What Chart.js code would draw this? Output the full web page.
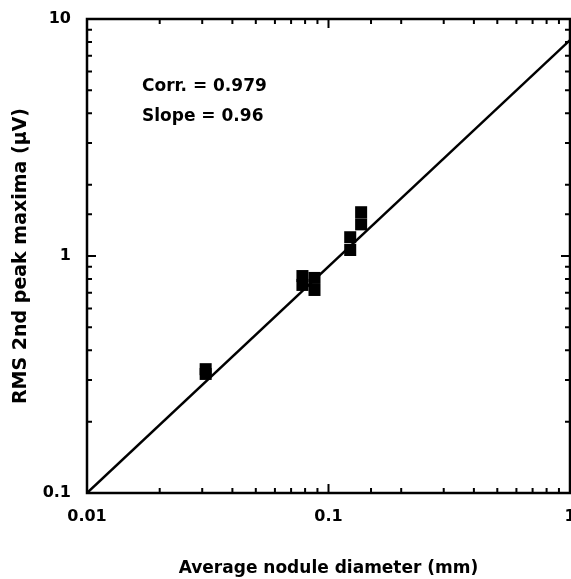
<!DOCTYPE html>
<html>
<head>
<meta charset="utf-8">
<script src="https://cdn.jsdelivr.net/npm/chart.js@4"></script>
<style>
  html, body { margin: 0; padding: 0; background: #fff; }
  #wrap { width: 571px; height: 579px; }
</style>
</head>
<body>
<div id="wrap"><canvas id="chart" width="571" height="579"></canvas></div>
<script>
// measured points (nodule diameter mm, RMS 2nd peak maxima uV)
const diam = [0.031, 0.031, 0.078, 0.078, 0.0875, 0.0875, 0.123, 0.123, 0.1365, 0.1365];
const rms  = [0.333, 0.318, 0.823, 0.755, 0.808, 0.719, 1.20, 1.06, 1.53, 1.36];
// fit line ends
const fitX = [0.01, 1];
const fitY = [0.1, 8.15];
const xMajor = [0.01, 0.1, 1];
const yMajor = [0.1, 1, 10];
const notes = ['Corr. = 0.979', 'Slope = 0.96'];

const FONT = '"DejaVu Sans", sans-serif';

const frame = {
  id: 'frame',
  afterDraw(chart) {
    const ctx = chart.ctx, a = chart.chartArea;
    const xs = chart.scales.x, ys = chart.scales.y;
    ctx.save();
    ctx.strokeStyle = '#000';
    ctx.lineWidth = 2.5;
    ctx.strokeRect(a.left, a.top, a.right - a.left, a.bottom - a.top);
    ctx.lineWidth = 2;
    const isMajor = v => Math.abs(Math.log10(v) - Math.round(Math.log10(v))) < 1e-6;
    xs.ticks.forEach(t => {
      const px = xs.getPixelForValue(t.value);
      const len = isMajor(t.value) ? 9 : 5;
      ctx.beginPath();
      ctx.moveTo(px, a.bottom); ctx.lineTo(px, a.bottom - len);
      ctx.moveTo(px, a.top); ctx.lineTo(px, a.top + len);
      ctx.stroke();
    });
    ys.ticks.forEach(t => {
      const py = ys.getPixelForValue(t.value);
      const len = isMajor(t.value) ? 9 : 5;
      ctx.beginPath();
      ctx.moveTo(a.left, py); ctx.lineTo(a.left + len, py);
      ctx.moveTo(a.right, py); ctx.lineTo(a.right - len, py);
      ctx.stroke();
    });
    ctx.fillStyle = '#000';
    ctx.font = 'bold 17px ' + FONT;
    ctx.textBaseline = 'middle';
    ctx.fillText(notes[0], a.left + 55, a.top + 68);
    ctx.fillText(notes[1], a.left + 55, a.top + 98);
    ctx.restore();
  }
};

const majorLabel = (v, list) => list.some(m => Math.abs(m - v) / m < 1e-6) ? String(v) : '';

new Chart(document.getElementById('chart'), {
  type: 'scatter',
  data: {
    datasets: [
      {
        label: 'fit',
        type: 'line',
        data: fitX.map((x, i) => ({ x, y: fitY[i] })),
        borderColor: '#000',
        borderWidth: 2.5,
        pointRadius: 0,
        fill: false
      },
      {
        label: 'data',
        data: diam.map((x, i) => ({ x, y: rms[i] })),
        pointStyle: 'rect',
        pointRadius: 8.5,
        backgroundColor: '#000',
        borderColor: '#000',
        borderWidth: 0
      }
    ]
  },
  options: {
    responsive: false,
    animation: false,
    layout: { autoPadding: false, padding: { top: 19, right: 1, left: 10, bottom: 0 } },
    plugins: { legend: { display: false }, tooltip: { enabled: false } },
    scales: {
      x: {
        type: 'logarithmic',
        min: 0.01, max: 1,
        grid: { display: false },
        border: { display: false },
        ticks: {
          autoSkip: false, maxRotation: 0, padding: 6, color: '#000',
          font: { family: FONT, size: 16, weight: 'bold' },
          callback: v => majorLabel(v, xMajor)
        },
        title: {
          display: true, text: 'Average nodule diameter (mm)', color: '#000',
          font: { family: FONT, size: 17, weight: 'bold' }, padding: { top: 18, bottom: 0 }
        },
        afterFit: s => { s.height = 86; s.paddingRight = 0; s.paddingLeft = 0; }
      },
      y: {
        type: 'logarithmic',
        min: 0.1, max: 10,
        grid: { display: false },
        border: { display: false },
        ticks: {
          autoSkip: false, padding: 8, color: '#000',
          font: { family: FONT, size: 16, weight: 'bold' },
          callback: v => majorLabel(v, yMajor)
        },
        title: {
          display: true, text: 'RMS 2nd peak maxima (μV)', color: '#000',
          font: { family: FONT, size: 19, weight: 'bold' }, padding: { top: 0, bottom: 4 }
        },
        afterFit: s => { s.width = 77; s.paddingTop = 0; s.paddingBottom = 0; }
      }
    }
  },
  plugins: [frame]
});
</script>
</body>
</html>
